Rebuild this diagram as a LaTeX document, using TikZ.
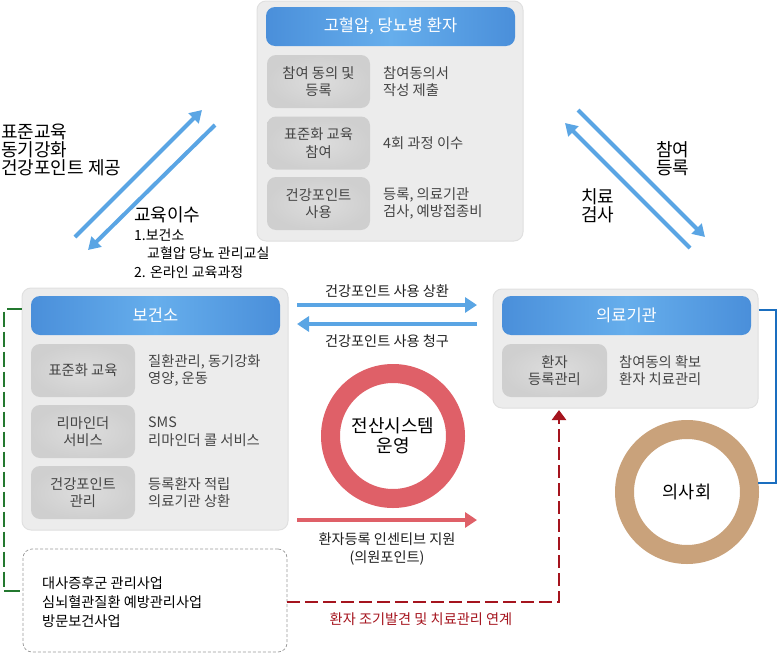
\documentclass[tikz,border=0pt]{standalone}
\usepackage{fontspec}
\setmainfont{Noto Sans CJK KR}
\usetikzlibrary{arrows.meta}
\definecolor{arrB}{HTML}{5AA5E4}
\definecolor{tbA}{HTML}{4A8FDA}
\definecolor{tbB}{HTML}{66AEEC}
\definecolor{panelF}{HTML}{ECECEC}
\definecolor{panelD}{HTML}{E0E0E0}
\definecolor{cellF}{HTML}{CFCFCF}
\definecolor{cellI}{HTML}{DDDDDD}
\definecolor{txtG}{HTML}{444444}
\definecolor{ringR}{HTML}{DF6068}
\definecolor{ringB}{HTML}{C9A27B}
\definecolor{lineG}{HTML}{23782F}
\definecolor{lineR}{HTML}{A5141E}
\definecolor{lineB}{HTML}{1A6EBF}
\newcommand\fsz[2]{\fontsize{#1}{#2}\selectfont}
\begin{document}
\begin{tikzpicture}[x=1pt,y=-1pt,
 panel/.style={draw=panelD, fill=panelF, rounded corners=9pt, line width=1pt, inner sep=0pt},
 tbar/.style={rounded corners=9pt, left color=tbA, right color=tbA, middle color=tbB, text=white, font=\fsz{16.5}{18}, inner sep=0pt, minimum width=249pt, minimum height=39pt},
 cellbox/.style={rounded corners=9pt, inner color=cellI, outer color=cellF, text=txtG, align=center, font=\fsz{14.3}{17.5}, inner sep=0pt, minimum height=53pt},
 rtext/.style={anchor=west, align=left, text=txtG, font=\fsz{14.3}{17.5}, inner sep=0pt},
 lbl/.style={font=\fsz{14.2}{18}, text=black!88, inner sep=0pt, align=center},
 big/.style={anchor=west, align=left, font=\fsz{18}{18}, inner sep=0pt},
 darrow/.style={draw=arrB, line width=4pt, -{Triangle[length=12pt,width=14pt]}},
 marrow/.style={draw=arrB, line width=3.6pt, -{Triangle[length=12pt,width=15pt]}},
 rarrow/.style={draw=ringR, line width=3.6pt, -{Triangle[length=12pt,width=15pt]}},
 ring/.style={circle, line width=19pt, minimum size=125pt, inner sep=0pt, align=center}
]
\useasboundingbox (0,0) rectangle (777,653);

% top panel
\node[panel, minimum width=266pt, minimum height=240pt] (tp) at (390,121) {};
\node[tbar] (tpt) at (390.5,26.5) {고혈압, 당뇨병 환자};
\node[cellbox, minimum width=103pt] (tc1) at (318.5,81.5) {참여 동의 및\\등록};
\node[cellbox, minimum width=103pt] (tc2) at (318.5,143) {표준화 교육\\참여};
\node[cellbox, minimum width=103pt] (tc3) at (318.5,203.5) {건강포인트\\사용};
\node[rtext] (tr1) at (383,81.5) {참여동의서\\작성 제출};
\node[rtext] (tr2) at (383,143) {4회 과정 이수};
\node[rtext] (tr3) at (383,203.5) {등록, 의료기관\\검사, 예방접종비};

% left panel
\node[panel, minimum width=266pt, minimum height=242pt] (lp) at (155,409) {};
\node[tbar] (lpt) at (155.5,315.5) {보건소};
\node[cellbox, minimum width=104pt] (lc1) at (83,370.5) {표준화 교육};
\node[cellbox, minimum width=104pt] (lc2) at (83,431.5) {리마인더\\서비스};
\node[cellbox, minimum width=104pt] (lc3) at (83,492.5) {건강포인트\\관리};
\node[rtext] (lr1) at (148,370.5) {질환관리, 동기강화\\영양, 운동};
\node[rtext] (lr2) at (148,431.5) {SMS\\리마인더 콜 서비스};
\node[rtext] (lr3) at (148,492.5) {등록환자 적립\\의료기관 상환};

% right panel
\node[panel, minimum width=265pt, minimum height=119pt] (rp) at (625.5,348.5) {};
\node[tbar] (rpt) at (626.5,315.5) {의료기관};
\node[cellbox, minimum width=105pt] (rc1) at (554.5,370.5) {환자\\등록관리};
\node[rtext] (rr1) at (619,370.5) {참여동의 확보\\환자 치료관리};

% bottom dashed box
\node[draw=black!40, dash pattern=on 3pt off 2pt, rounded corners=9pt, minimum width=264pt, minimum height=103pt, line width=0.7pt] (bx) at (155,600.5) {};
\node[anchor=west, align=left, font=\fsz{14.2}{19}, inner sep=0pt] (bxt) at (42,602) {대사증후군 관리사업\\심뇌혈관질환 예방관리사업\\방문보건사업};

% rings
\node[ring, draw=ringR, font=\fsz{18}{20}] (sys) at (393,436) {전산시스템\\운영};
\node[ring, draw=ringB, font=\fsz{17.5}{20}] (doc) at (687,492) {의사회};

% left diagonal arrows
\coordinate (la1) at (75,237); \coordinate (la2) at (202,110);
\coordinate (lb1) at (215,125); \coordinate (lb2) at (88,250);
\draw[darrow] (la1) -- (la2);
\draw[darrow] (lb1) -- (lb2);
\node[big] (ltx) at (1,150) {표준교육\\동기강화\\건강포인트 제공};
\node[big] (edu) at (134,215) {교육이수};
\node[anchor=west, align=left, font=\fsz{14}{18.5}, inner sep=0pt] (edul) at (134,253.5) {1.보건소\\\hspace*{13pt}교혈압 당뇨 관리교실\\2. 온라인 교육과정};

% right diagonal arrows
\coordinate (ra1) at (578,110); \coordinate (ra2) at (705,237);
\coordinate (rb1) at (690,248); \coordinate (rb2) at (565,123);
\draw[darrow] (ra1) -- (ra2);
\draw[darrow] (rb1) -- (rb2);
\node[big] (rtx1) at (656,159) {참여\\등록};
\node[big] (rtx2) at (581,206) {치료\\검사};

% middle arrows
\coordinate (m1a) at (297,305); \coordinate (m1b) at (477,305);
\coordinate (m2a) at (297,324); \coordinate (m2b) at (477,324);
\coordinate (m3a) at (297,520); \coordinate (m3b) at (477,520);
\draw[marrow] (m1a) -- (m1b);
\draw[marrow] (m2b) -- (m2a);
\draw[rarrow] (m3a) -- (m3b);
\node[lbl] (ml1) at (387,291) {건강포인트 사용 상환};
\node[lbl] (ml2) at (387,341) {건강포인트 사용 청구};
\node[lbl] (ml3) at (387,549) {환자등록 인센티브 지원\\(의원포인트)};

% connectors
\coordinate (g1) at (4,309); \coordinate (g2) at (4,591);
\draw[lineG, line width=2pt, dash pattern=on 15pt off 5pt] (lp.west |- g1) -- (g1) -- (g2) -- (bx.west |- g2);
\coordinate (b1) at (776,310);
\draw[lineB, line width=2pt] (rp.east |- b1) -- (b1) |- (doc.7);
\coordinate (r1) at (559,602); \coordinate (rtip) at (559,410);
\draw[lineR, line width=2.8pt, dash pattern=on 13pt off 5pt, -{Triangle[length=10pt,width=14pt]}] (bx.east |- r1) -- (r1) -- (rtip);
\node[lbl, text=lineR] (rl) at (421,619) {환자 조기발견 및 치료관리 연계};
\end{tikzpicture}
\end{document}
